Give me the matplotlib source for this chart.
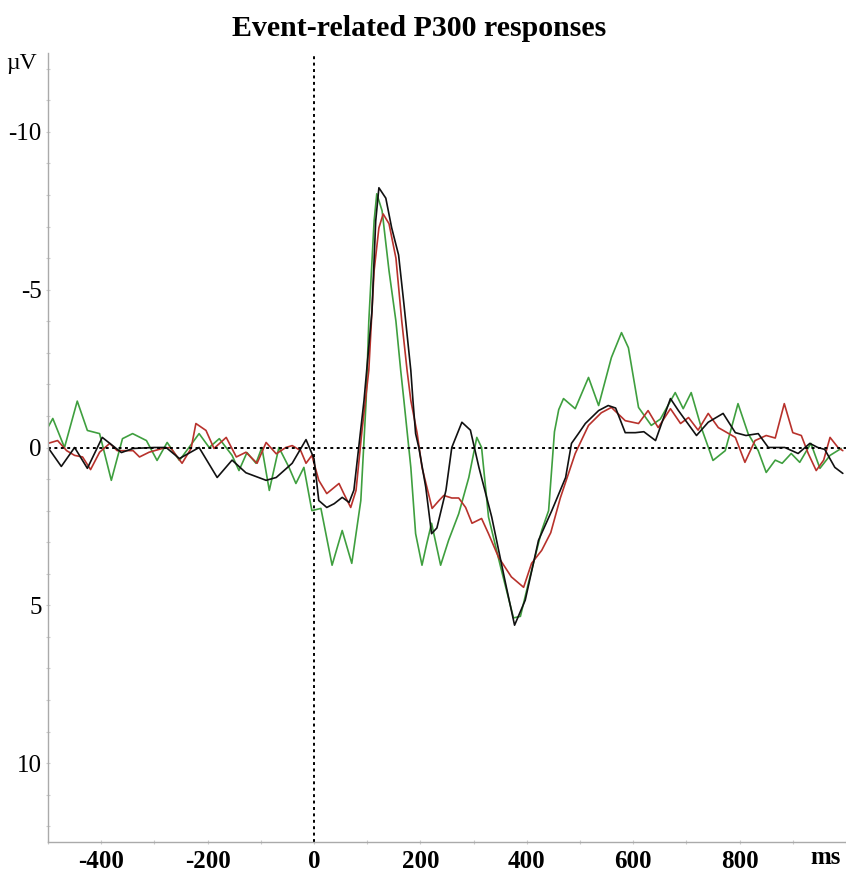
import matplotlib
matplotlib.use("Agg")
import matplotlib.pyplot as plt
from matplotlib.ticker import MultipleLocator

# ERP traces (time in ms, amplitude in µV, negative up)
black_t = [-500, -475, -450, -426, -398, -362, -340, -300, -278, -253, -216, -182, -154,
           -128, -90, -71, -41, -15, 0, 9, 24, 38, 53, 66, 75, 94, 99, 109, 116, 122,
           135, 146, 159, 169, 182, 186, 191, 197, 210, 221, 231, 248, 259, 278, 294,
           310, 334, 360, 377, 397, 422, 447, 473, 484, 497, 510, 535, 553, 567, 585,
           604, 620, 642, 670, 685, 719, 741, 769, 792, 812, 835, 854, 885, 910, 932,
           947, 960, 979, 994]
black_v = [0.0, 0.6, 0.0, 0.66, -0.32, 0.16, 0.03, 0.0, 0.0, 0.35, 0.0, 0.95, 0.4,
           0.8, 1.04, 0.95, 0.5, -0.25, 0.35, 1.68, 1.9, 1.78, 1.58, 1.74, 1.35, -1.49,
           -2.44, -4.33, -7.18, -8.23, -7.9, -6.96, -6.1, -4.55, -2.44, -1.49, -0.44,
           0.0, 1.25, 2.73, 2.55, 1.36, 0.0, -0.8, -0.55, 0.63, 2.2, 4.3, 5.63, 4.84,
           2.94, 2.0, 0.95, -0.13, -0.44, -0.76, -1.17, -1.33, -1.25, -0.47, -0.47,
           -0.5, -0.22, -1.55, -1.17, -0.38, -0.8, -1.08, -0.47, -0.38, -0.44, 0.0,
           0.0, 0.19, -0.13, 0.0, 0.06, 0.63, 0.82]

red_t = [-500, -482, -465, -450, -435, -420, -403, -384, -370, -340, -328, -310, -285,
         -270, -248, -231, -222, -203, -188, -165, -146, -128, -107, -90, -71, -53,
         -41, -25, -15, -4, 9, 24, 47, 56, 69, 79, 90, 103, 113, 122, 130, 141, 154,
         165, 175, 182, 194, 203, 222, 235, 244, 259, 272, 285, 297, 315, 328, 347,
         371, 394, 409, 428, 445, 463, 491, 516, 540, 559, 585, 610, 628, 647, 670,
         689, 704, 722, 741, 760, 792, 810, 829, 850, 867, 884, 900, 916, 929, 944,
         958, 970, 985, 994]
red_v = [-0.13, -0.22, 0.1, 0.25, 0.3, 0.7, 0.15, -0.13, 0.1, 0.1, 0.3, 0.15, 0.03,
         0.0, 0.5, 0.03, -0.76, -0.54, 0.03, -0.32, 0.3, 0.15, 0.5, -0.16, 0.2, 0.0,
         -0.06, 0.1, 0.5, 0.25, 1.04, 1.46, 1.14, 1.46, 1.9, 1.36, -0.5, -2.44, -5.6,
         -6.96, -7.4, -7.09, -6.0, -4.0, -2.44, -1.49, -0.44, 0.63, 1.93, 1.68, 1.52,
         1.6, 1.6, 1.9, 2.4, 2.25, 2.73, 3.48, 4.1, 4.43, 3.67, 3.26, 2.7, 1.6, 0.19,
         -0.7, -1.1, -1.27, -0.85, -0.76, -1.17, -0.63, -1.23, -0.76, -0.95, -0.55,
         -1.08, -0.63, -0.32, 0.47, -0.22, -0.38, -0.3, -1.39, -0.47, -0.38, 0.19,
         0.73, 0.4, -0.32, 0.0, 0.1]

green_t = [-500, -491, -469, -445, -426, -403, -381, -360, -341, -315, -295, -276,
           -253, -235, -216, -197, -178, -154, -141, -126, -109, -98, -84, -66, -47,
           -34, -19, -4, 13, 34, 53, 71, 88, 98, 103, 113, 118, 128, 141, 154, 163,
           169, 182, 191, 203, 212, 221, 238, 253, 272, 291, 306, 315, 328, 351, 375,
           388, 403, 428, 441, 452, 460, 469, 491, 516, 535, 559, 578, 591, 610, 634,
           651, 679, 694, 709, 728, 750, 773, 797, 816, 835, 850, 867, 880, 897, 913,
           934, 951, 970, 991]
green_v = [-0.64, -0.92, 0.0, -1.47, -0.54, -0.44, 1.04, -0.28, -0.44, -0.22, 0.41,
           -0.16, 0.41, 0.0, -0.44, 0.0, -0.28, 0.25, 0.73, 0.16, 0.5, 0.0, 1.36, 0.0,
           0.63, 1.14, 0.63, 2.0, 1.93, 3.73, 2.63, 3.67, 1.68, -1.49, -4.0, -7.18,
           -8.04, -7.5, -5.6, -4.0, -2.44, -1.49, 0.63, 2.73, 3.73, 3.04, 2.4, 3.73,
           2.94, 2.1, 0.95, -0.32, 0.0, 2.2, 3.8, 5.4, 5.35, 4.3, 2.63, 2.0, -0.5,
           -1.2, -1.55, -1.23, -2.22, -1.33, -2.85, -3.64, -3.16, -1.27, -0.7, -0.9,
           -1.74, -1.23, -1.74, -0.63, 0.41, 0.1, -1.39, -0.44, 0.1, 0.79, 0.4, 0.5,
           0.19, 0.47, -0.13, 0.66, 0.25, 0.03]

x_ticks = [-400, -200, 0, 200, 400, 600, 800]
y_ticks = [-10, -5, 0, 5, 10]

W, H = 846, 872
fig = plt.figure(figsize=(W / 100, H / 100), dpi=100)
ax = fig.add_axes([48 / W, 1 - 842 / H, 1 - 48 / W, (842 - 53) / H])

line_kw = dict(lw=1.2, solid_joinstyle="round", solid_capstyle="round")
ax.plot(green_t, green_v, color="#3f9f3f", **line_kw)
ax.plot(red_t, red_v, color="#b8322c", **line_kw)
ax.plot(black_t, black_v, color="#111111", **line_kw)

# dotted zero lines
ax.axhline(0, color="black", lw=1.4, ls=(0, (1.5, 1.8)))
ax.axvline(0, color="black", lw=1.4, ls=(0, (1.5, 1.8)))

ax.set_xlim(-500, 1000)
ax.set_ylim(12.5, -12.5)

for s in ["top", "right"]:
    ax.spines[s].set_visible(False)
for s in ["left", "bottom"]:
    ax.spines[s].set_color("#aaaaaa")
    ax.spines[s].set_linewidth(1.0)

ax.set_xticks(x_ticks)
ax.set_xticklabels([str(v) for v in x_ticks], fontfamily="Liberation Serif",
                   fontweight="bold", fontsize=18)
ax.set_yticks(y_ticks)
ax.set_yticklabels([str(v) for v in y_ticks], fontfamily="Liberation Serif", fontsize=18)
ax.xaxis.set_minor_locator(MultipleLocator(100))
ax.yaxis.set_minor_locator(MultipleLocator(1))
ax.tick_params(which="both", direction="inout", color="#cccccc", length=3, width=0.8)
ax.tick_params(axis="x", pad=4)
ax.tick_params(axis="y", pad=3)

fig.text(826 / W, 1 - 857 / H, "ms", ha="center", va="center",
         fontfamily="Liberation Serif", fontweight="bold", fontsize=18)
fig.text(22 / W, 1 - 63 / H, "µV", ha="center", va="center",
         fontfamily="Liberation Serif", fontsize=17)
fig.text(419 / W, 1 - 28 / H, "Event-related P300 responses", ha="center", va="center",
         fontfamily="Liberation Serif", fontweight="bold", fontsize=21.5)

fig.savefig("out.png", dpi=100)
